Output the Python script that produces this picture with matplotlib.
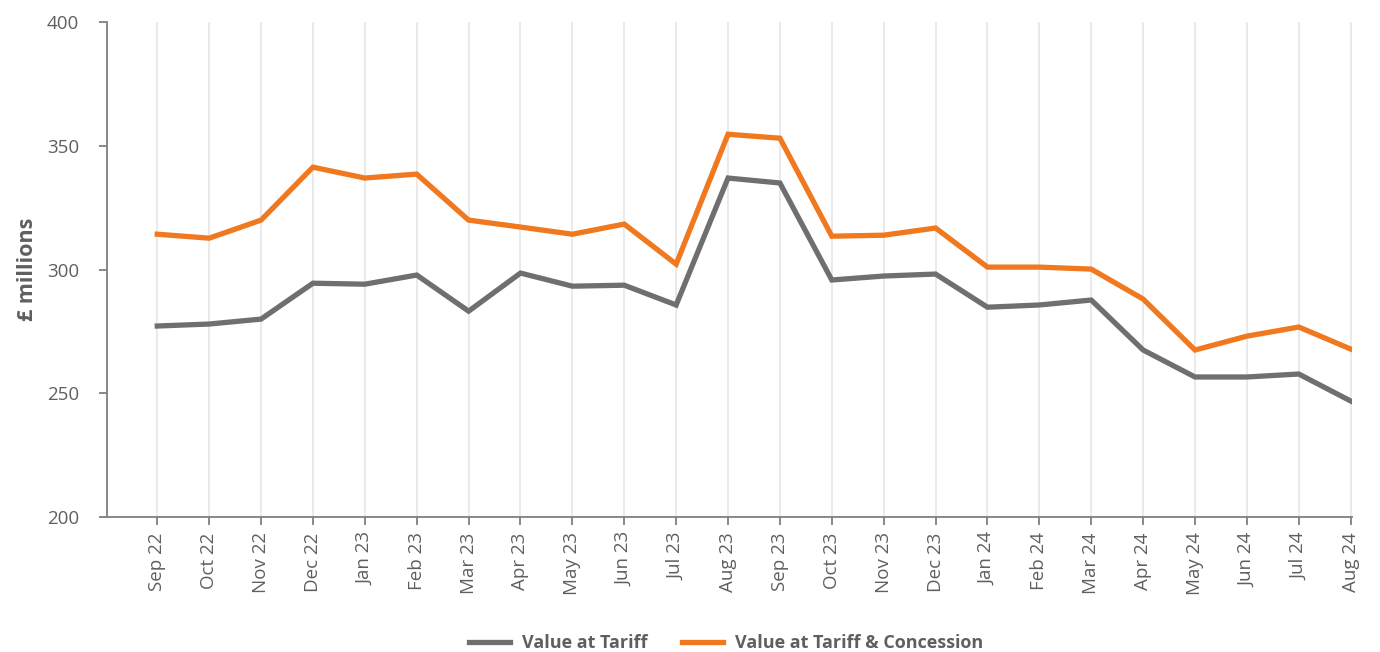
import matplotlib
matplotlib.use("Agg")
import matplotlib.pyplot as plt
import numpy as np

months = ["Sep 22", "Oct 22", "Nov 22", "Dec 22", "Jan 23", "Feb 23", "Mar 23", "Apr 23",
          "May 23", "Jun 23", "Jul 23", "Aug 23", "Sep 23", "Oct 23", "Nov 23", "Dec 23",
          "Jan 24", "Feb 24", "Mar 24", "Apr 24", "May 24", "Jun 24", "Jul 24", "Aug 24"]

value_tariff = [277.2, 278.0, 280.0, 294.5, 294.1, 297.8, 283.2, 298.6,
                293.3, 293.7, 285.7, 337.0, 335.0, 295.8, 297.4, 298.2,
                284.8, 285.7, 287.7, 267.5, 256.6, 256.6, 257.8, 246.9]

value_tariff_concession = [314.3, 312.7, 320.0, 341.4, 337.0, 338.6, 320.0, 317.2,
                           314.3, 318.4, 302.2, 354.7, 353.1, 313.5, 313.9, 316.8,
                           301.0, 301.0, 300.2, 288.1, 267.5, 273.1, 276.8, 267.9]

GRAY = "#6f6f6f"
ORANGE = "#f0781e"
TEXT = "#5f5f5f"

plt.rcParams['font.family'] = ['Open Sans', 'DejaVu Sans']

fig = plt.figure(figsize=(13.8, 6.52), dpi=100)
ax = fig.add_axes([0.0775, 0.207, 0.902, 0.759])

x = np.arange(len(months))
ax.plot(x, value_tariff, color=GRAY, lw=3.8, label="Value at Tariff", solid_joinstyle="miter")
ax.plot(x, value_tariff_concession, color=ORANGE, lw=3.8, label="Value at Tariff & Concession",
        solid_joinstyle="miter")

ax.set_xlim(-0.97, 23.02)
ax.set_ylim(200, 400)
ax.set_yticks([200, 250, 300, 350, 400])
ax.set_xticks(x)
ax.set_xticklabels(months, rotation=90)
ax.grid(axis="x", color="#e6e6e6", lw=1.2)
ax.set_axisbelow(True)

for s in ["top", "right"]:
    ax.spines[s].set_visible(False)
for s in ["left", "bottom"]:
    ax.spines[s].set_color("#7f7f7f")
    ax.spines[s].set_linewidth(1.3)

ax.tick_params(axis="both", colors="#7f7f7f", labelcolor=TEXT, labelsize=13.5, length=6, width=1.3)
ax.tick_params(axis="x", pad=5)
ax.tick_params(axis="y", pad=14)

ax.set_ylabel("£ millions", fontsize=15.5, fontweight="bold", color=TEXT)
ax.yaxis.set_label_coords(-0.055, 0.5)

leg = fig.legend(loc="lower center", bbox_to_anchor=(0.526, -0.025), ncol=2, frameon=False,
                 handlelength=2.3, columnspacing=1.9, handletextpad=0.65,
                 prop={"weight": "bold", "size": 13})
for t in leg.get_texts():
    t.set_color(TEXT)

fig.savefig("out.png", dpi=100)
